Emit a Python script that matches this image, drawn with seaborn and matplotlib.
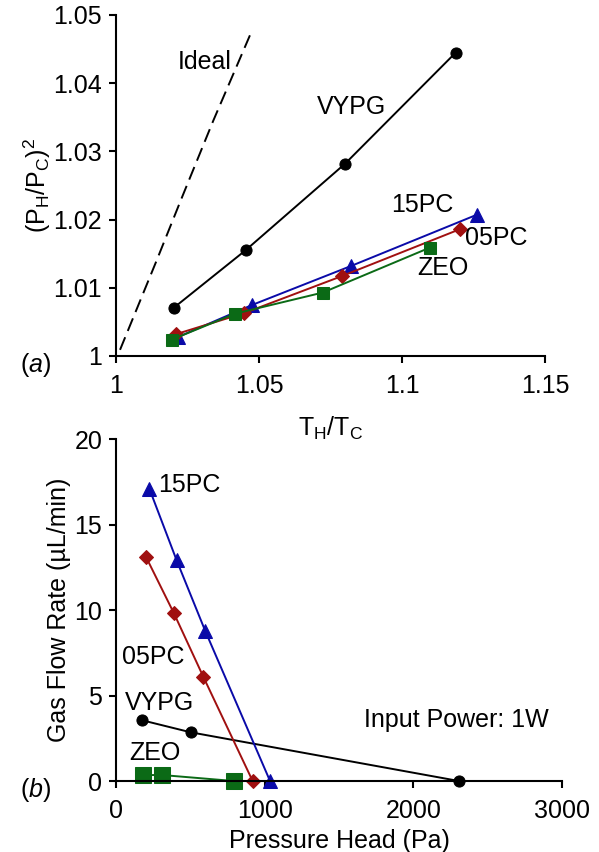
import matplotlib
matplotlib.use('Agg')
import matplotlib.pyplot as plt
import seaborn as sns

# Panel (a): pressure ratio squared vs temperature ratio
ideal_x = [1.0014, 1.0140, 1.0230, 1.0340, 1.0469]
ideal_y = [1.0009, 1.0138, 1.0232, 1.0345, 1.0471]

vypg_t = [1.0203, 1.0453, 1.0801, 1.1188]
vypg_p = [1.0071, 1.0155, 1.0282, 1.0445]
pc15_t = [1.0218, 1.0477, 1.0822, 1.1261]
pc15_p = [1.0028, 1.0075, 1.0132, 1.0207]
pc05_t = [1.0210, 1.0449, 1.0789, 1.1203]
pc05_p = [1.0032, 1.0063, 1.0117, 1.0186]
zeo_t = [1.0195, 1.0416, 1.0723, 1.1098]
zeo_p = [1.0024, 1.0062, 1.0093, 1.0159]

a_xticks = [1, 1.05, 1.1, 1.15]
a_xlabels = ['1', '1.05', '1.1', '1.15']
a_yticks = [1, 1.01, 1.02, 1.03, 1.04, 1.05]
a_ylabels = ['1', '1.01', '1.02', '1.03', '1.04', '1.05']

# Panel (b): gas flow rate vs pressure head
pc15_head = [224, 408, 599, 1036]
pc15_flow = [17.1, 12.9, 8.8, 0.0]
pc05_head = [202, 390, 587, 919]
pc05_flow = [13.1, 9.8, 6.1, 0.0]
vypg_head = [177, 502, 2307]
vypg_flow = [3.55, 2.85, 0.0]
zeo_head = [179, 311, 794]
zeo_flow = [0.35, 0.35, 0.0]

b_xticks = [0, 1000, 2000, 3000]
b_yticks = [0, 5, 10, 15, 20]

BLUE = '#0a0aa8'
RED = '#a01010'
GREEN = '#0b6a16'
BLACK = 'black'

sns.set_style('ticks')
plt.rcParams['font.family'] = ['Liberation Sans', 'DejaVu Sans']
plt.rcParams['mathtext.fontset'] = 'custom'
plt.rcParams['mathtext.rm'] = 'Liberation Sans'
plt.rcParams['mathtext.it'] = 'Liberation Sans:italic'
plt.rcParams['mathtext.default'] = 'regular'
plt.rcParams['text.color'] = 'black'
plt.rcParams['axes.labelcolor'] = 'black'

FS = 18

fig = plt.figure(figsize=(5.99, 8.52), dpi=100)
ax1 = fig.add_axes([0.1937, 0.5822, 0.7162, 0.4002])
ax2 = fig.add_axes([0.1937, 0.0833, 0.7446, 0.4014])

lw = 1.4
# ---- panel (a)
sns.lineplot(x=ideal_x, y=ideal_y, ax=ax1, color=BLACK, linestyle=(0, (7, 3.5)),
             lw=lw, sort=False)
sns.lineplot(x=vypg_t, y=vypg_p, ax=ax1, color=BLACK, marker='o', ms=8,
             mec=BLACK, lw=lw, sort=False)
sns.lineplot(x=pc15_t, y=pc15_p, ax=ax1, color=BLUE, marker='^', ms=10,
             mec=BLUE, lw=lw, sort=False)
sns.lineplot(x=pc05_t, y=pc05_p, ax=ax1, color=RED, marker='D', ms=7.5,
             mec=RED, lw=lw, sort=False)
sns.lineplot(x=zeo_t, y=zeo_p, ax=ax1, color=GREEN, marker='s', ms=9,
             mec=GREEN, lw=lw, sort=False)

ax1.set_xlim(1, 1.15)
ax1.set_ylim(1, 1.05)
ax1.set_xticks(a_xticks)
ax1.set_xticklabels(a_xlabels)
ax1.set_yticks(a_yticks)
ax1.set_yticklabels(a_ylabels)
ax1.set_xlabel(r'$T_H/T_C$', fontsize=FS, labelpad=12)
ax1.set_ylabel(r'$(P_H/P_C)^2$', fontsize=FS, labelpad=0)

ax1.text(1.031, 1.0431, 'Ideal', fontsize=FS, ha='center', va='center')
ax1.text(1.0822, 1.0365, 'VYPG', fontsize=FS, ha='center', va='center')
ax1.text(1.107, 1.0221, '15PC', fontsize=FS, ha='center', va='center')
ax1.text(1.1329, 1.0173, '05PC', fontsize=FS, ha='center', va='center')
ax1.text(1.1143, 1.0129, 'ZEO', fontsize=FS, ha='center', va='center')

# ---- panel (b)
sns.lineplot(x=vypg_head, y=vypg_flow, ax=ax2, color=BLACK, marker='o', ms=8,
             mec=BLACK, lw=lw, sort=False)
sns.lineplot(x=pc15_head, y=pc15_flow, ax=ax2, color=BLUE, marker='^', ms=10,
             mec=BLUE, lw=lw, sort=False)
sns.lineplot(x=pc05_head, y=pc05_flow, ax=ax2, color=RED, marker='D', ms=7.5,
             mec=RED, lw=lw, sort=False)
sns.lineplot(x=zeo_head, y=zeo_flow, ax=ax2, color=GREEN, marker='s', ms=11.5,
             mec=GREEN, lw=lw, sort=False)

ax2.set_xlim(0, 3000)
ax2.set_ylim(0, 20)
ax2.set_xticks(b_xticks)
ax2.set_yticks(b_yticks)
ax2.set_xlabel('Pressure Head (Pa)', fontsize=FS, labelpad=4)
ax2.set_ylabel('Gas Flow Rate (\u00b5L/min)', fontsize=FS, labelpad=2)

ax2.text(283, 17.3, '15PC', fontsize=FS, ha='left', va='center')
ax2.text(249, 7.27, '05PC', fontsize=FS, ha='center', va='center')
ax2.text(293, 4.54, 'VYPG', fontsize=FS, ha='center', va='center')
ax2.text(262, 1.62, 'ZEO', fontsize=FS, ha='center', va='center')
ax2.text(2287, 3.57, 'Input Power: 1W', fontsize=FS, ha='center', va='center')

for ax in (ax1, ax2):
    sns.despine(ax=ax)
    for s in ('left', 'bottom'):
        ax.spines[s].set_linewidth(1.5)
        ax.spines[s].set_color('black')
    ax.tick_params(direction='out', length=5, width=1.5, labelsize=FS,
                   colors='black', pad=5)
    ax.tick_params(axis='x', pad=8)
    ax.set_facecolor('white')
    for ln in ax.lines:
        ln.set_clip_on(False)

fig.text(36 / 599, 1 - 365 / 852, '(' + r'$\mathit{a}$' + ')', fontsize=FS,
         ha='center', va='center')
fig.text(36 / 599, 1 - 790 / 852, '(' + r'$\mathit{b}$' + ')', fontsize=FS,
         ha='center', va='center')

fig.savefig('out.png', dpi=100, facecolor='white')
